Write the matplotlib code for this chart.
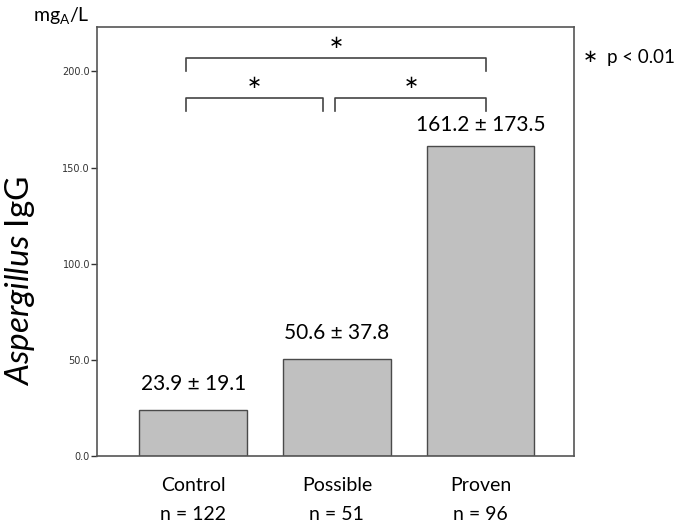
import numpy as np
import matplotlib
matplotlib.use('Agg')
import matplotlib.pyplot as plt

plt.rcParams['font.family'] = ['Lato', 'DejaVu Sans']
plt.rcParams['mathtext.fontset'] = 'custom'
plt.rcParams['mathtext.rm'] = 'Lato'
plt.rcParams['mathtext.it'] = 'Lato:italic'

groups = ['Control', 'Possible', 'Proven']
means = [23.9, 50.6, 161.2]
sds = [19.1, 37.8, 173.5]
counts = [122, 51, 96]
yticks = [0, 50, 100, 150, 200]

fig = plt.figure(figsize=(6.8, 5.23), dpi=100)
ax = fig.add_axes([0.1426, 0.128, 0.7015, 0.82])

x = np.arange(len(groups))
ax.bar(x, means, width=0.75, color='#c0c0c0', edgecolor='#4a4a4a', linewidth=1.0)

label_gap = [10.5, 10.5, 8]
for xi, m, s, g in zip(x, means, sds, label_gap):
    ax.text(xi, m + g, f'{m} ± {s}', ha='center', va='baseline', fontsize=15)

ax.set_xlim(-0.67, 2.65)
ax.set_ylim(0, 223)
ax.set_xticks([])
ax.set_yticks(yticks)
ax.set_yticklabels([f'{v:.1f}' for v in yticks], fontsize=7, family='DejaVu Sans', color='#333333')
ax.tick_params(axis='y', direction='out', length=4, width=1, color='#333333', pad=1)
for sp in ax.spines.values():
    sp.set_color('#555555')
    sp.set_linewidth(1.2)

# category and n labels under axes
for xi, g, n in zip(x, groups, counts):
    ax.text(xi, -0.068, g, transform=ax.get_xaxis_transform(), ha='center', va='center', fontsize=14)
    ax.text(xi, -0.136, f'n = {n}', transform=ax.get_xaxis_transform(), ha='center', va='center', fontsize=14)

# significance brackets
def bracket(x0, x1, y, h):
    ax.plot([x0, x0, x1, x1], [y - h, y, y, y - h], color='#444444', lw=1.2, clip_on=False)
    ax.text((x0 + x1) / 2, y + 8, '\u2217', ha='center', va='center', fontsize=13, family='DejaVu Sans')

bracket(-0.05, 2.04, 207, 7)
bracket(-0.05, 0.9, 186, 6.5)
bracket(0.99, 2.04, 186, 6.5)

fig.text(0.868, 0.891, '\u2217', fontsize=13, ha='center', va='center', family='DejaVu Sans')
fig.text(0.893, 0.890, 'p < 0.01', fontsize=13.5, ha='left', va='center')

fig.text(0.048, 0.971, r'mg$_{\mathrm{A}}$/L', fontsize=14, ha='left', va='center')
fig.text(0.03, 0.463, r'$\mathit{Aspergillus}$ IgG', fontsize=24, rotation=90, ha='center', va='center')

fig.savefig('out.png', dpi=100)
